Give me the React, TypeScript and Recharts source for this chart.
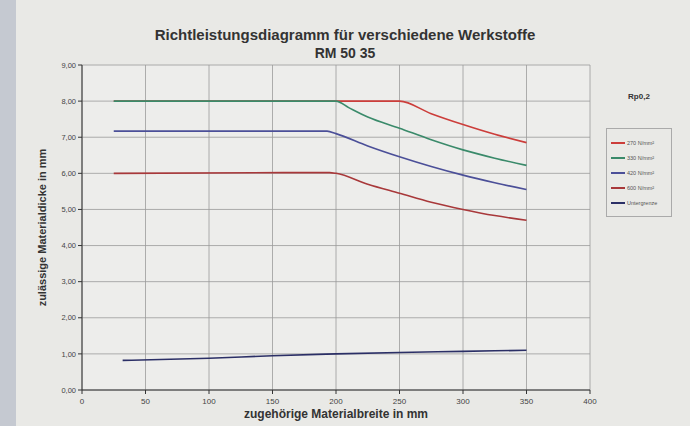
import { CartesianGrid, Label, Line, LineChart, XAxis, YAxis } from "recharts"

const xTicks = [0, 50, 100, 150, 200, 250, 300, 350, 400]
const yTicks = [0, 1, 2, 3, 4, 5, 6, 7, 8, 9]

const s270 = [
  { b: 25, d: 8.0 },
  { b: 200, d: 8.0 },
  { b: 250, d: 8.0 },
  { b: 275, d: 7.65 },
  { b: 300, d: 7.35 },
  { b: 325, d: 7.08 },
  { b: 350, d: 6.85 },
]
const s330 = [
  { b: 25, d: 8.0 },
  { b: 200, d: 8.0 },
  { b: 210, d: 7.82 },
  { b: 225, d: 7.56 },
  { b: 250, d: 7.25 },
  { b: 275, d: 6.93 },
  { b: 300, d: 6.65 },
  { b: 325, d: 6.42 },
  { b: 350, d: 6.22 },
]
const s420 = [
  { b: 25, d: 7.17 },
  { b: 193, d: 7.17 },
  { b: 200, d: 7.1 },
  { b: 225, d: 6.76 },
  { b: 250, d: 6.46 },
  { b: 275, d: 6.19 },
  { b: 300, d: 5.95 },
  { b: 325, d: 5.74 },
  { b: 350, d: 5.55 },
]
const s600 = [
  { b: 25, d: 6.0 },
  { b: 195, d: 6.02 },
  { b: 200, d: 6.0 },
  { b: 225, d: 5.7 },
  { b: 250, d: 5.45 },
  { b: 275, d: 5.2 },
  { b: 300, d: 5.0 },
  { b: 325, d: 4.83 },
  { b: 350, d: 4.7 },
]
const unter = [
  { b: 32, d: 0.82 },
  { b: 100, d: 0.88 },
  { b: 150, d: 0.95 },
  { b: 200, d: 1.0 },
  { b: 250, d: 1.04 },
  { b: 300, d: 1.07 },
  { b: 350, d: 1.1 },
]

const series = [
  { name: "270 N/mm²", data: s270, color: "#cc3d3a" },
  { name: "330 N/mm²", data: s330, color: "#3a8a6a" },
  { name: "420 N/mm²", data: s420, color: "#4b4f98" },
  { name: "600 N/mm²", data: s600, color: "#a8383a" },
  { name: "Untergrenze", data: unter, color: "#2b2f66" },
]

const font = "Arial, 'Liberation Sans', sans-serif"

// legend sits outside the plot, like the printed sheet
function LegendBox() {
  return (
    <div style={{ position: "absolute", left: 606, top: 92, width: 66, fontFamily: font, color: "#555" }}>
      <div style={{ fontSize: 8, fontWeight: "bold", textAlign: "center", marginBottom: 27, color: "#333" }}>Rp0,2</div>
      <div style={{ border: "1px solid #aaa", padding: "6px 4px", width: 56 }}>
        {series.map((s) => (
          <div key={s.name} style={{ display: "flex", alignItems: "center", height: 15, fontSize: 5.5 }}>
            <div style={{ width: 14, height: 2, background: s.color, marginRight: 2 }} />
            {s.name}
          </div>
        ))}
      </div>
    </div>
  )
}

export default function App() {
  return (
    <div style={{ position: "absolute", left: 0, top: 0, width: 690, height: 426, background: "#e9e9e6", fontFamily: font }}>
      <div style={{ position: "absolute", left: 0, top: 0, width: 16, height: 426, background: "#c5c9d1" }} />
      <div style={{ position: "absolute", left: 0, top: 26, width: 690, textAlign: "center", fontSize: 15, fontWeight: "bold", color: "#333" }}>
        Richtleistungsdiagramm für verschiedene Werkstoffe
      </div>
      <div style={{ position: "absolute", left: 0, top: 45, width: 690, textAlign: "center", fontSize: 14, fontWeight: "bold", color: "#333" }}>
        RM 50 35
      </div>
      <LegendBox />
      <LineChart width={690} height={426} margin={{ top: 65, right: 100, bottom: 2, left: 52 }}>
        <CartesianGrid stroke="#9a9a9a" strokeWidth={0.8} fill="#ededeb" />
        <XAxis
          type="number"
          dataKey="b"
          domain={[0, 400]}
          ticks={xTicks}
          height={34}
          stroke="#333"
          tickSize={4}
          tick={{ fontSize: 8, fill: "#444" }}
          tickMargin={4}
        >
          <Label value="zugehörige Materialbreite in mm" position="insideBottom" offset={6} style={{ fontSize: 12, fontWeight: "bold", fill: "#333" }} />
        </XAxis>
        <YAxis
          type="number"
          domain={[0, 9]}
          ticks={yTicks}
          width={30}
          stroke="#333"
          tickSize={4}
          tick={{ fontSize: 7.5, fill: "#444" }}
          tickFormatter={(v: number) => v.toFixed(2).replace(".", ",")}
        >
          <Label value="zulässige Materialdicke in mm" angle={-90} position="left" offset={10} style={{ fontSize: 11, fontWeight: "bold", fill: "#333", textAnchor: "middle" }} />
        </YAxis>
        {series.map((s) => (
          <Line
            key={s.name}
            name={s.name}
            data={s.data}
            dataKey="d"
            type="monotone"
            stroke={s.color}
            strokeWidth={1.6}
            dot={false}
            isAnimationActive={false}
          />
        ))}
      </LineChart>
    </div>
  )
}
